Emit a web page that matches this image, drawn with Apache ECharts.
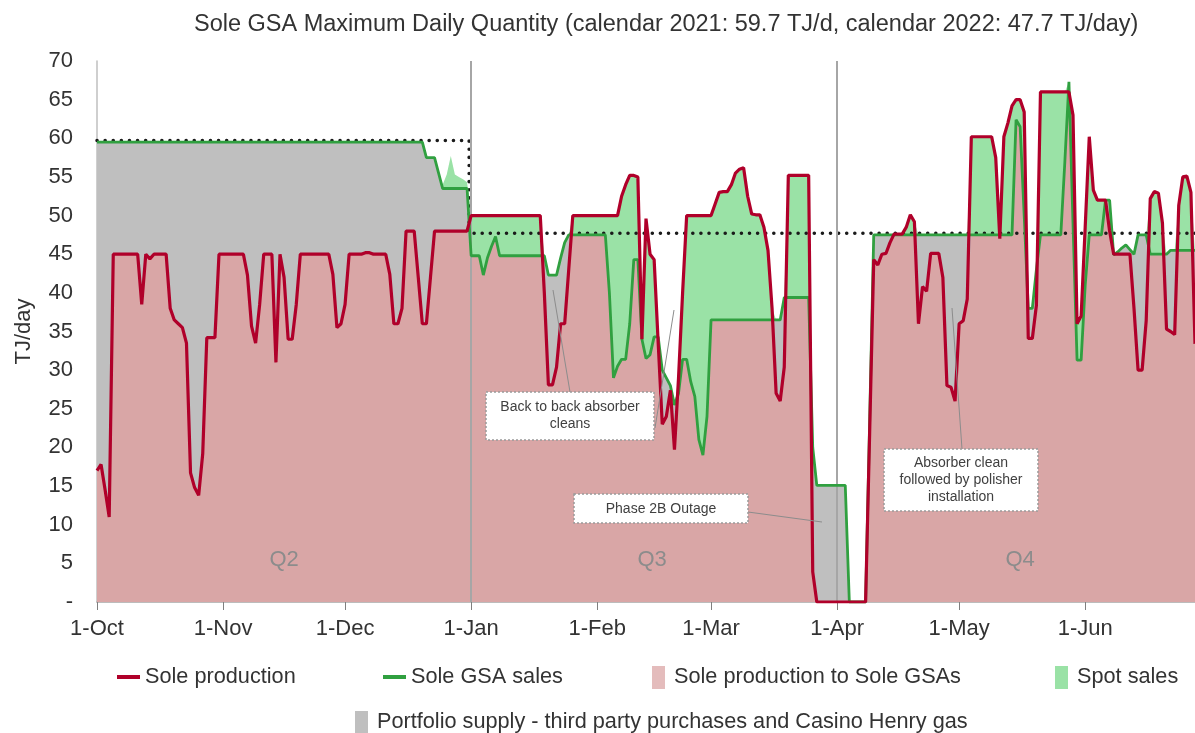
<!DOCTYPE html>
<html>
<head>
<meta charset="utf-8">
<script src="https://cdn.jsdelivr.net/npm/echarts@6/dist/echarts.min.js"></script>
<style>
html, body { margin: 0; padding: 0; background: #fff; }
#chart { width: 1195px; height: 733px; }
</style>
</head>
<body>
<div id="chart"></div>
<script>
// day 0 = 1 Oct 2021
const monthDays = [0, 31, 61, 92, 123, 151, 182, 212, 243];
const monthLabels = ['1-Oct', '1-Nov', '1-Dec', '1-Jan', '1-Feb', '1-Mar', '1-Apr', '1-May', '1-Jun'];
const quarterStartDays = [92, 182];
const quarterNames = ['Q2', 'Q3', 'Q4'];
const quarterMidDays = [46, 136.5, 227];
const quarterLabelLevel = 5.4;

// Sole GSA maximum daily quantity
const mdqDays = [0, 91.5, 91.5, 270];
const mdqValues = [59.7, 59.7, 47.7, 47.7];

// Sole production, TJ/day, one value per day
const production = [
  17, 17.8, 14.5, 11, 45, 45, 45, 45, 45, 45,
  45, 38.5, 45, 44.4, 45, 45, 45, 45, 38, 36.5,
  36, 35.5, 33.5, 16.7, 14.8, 13.8, 19.2, 34.2, 34.2, 34.2,
  45, 45, 45, 45, 45, 45, 45, 42.3, 35.7, 33.5,
  38.5, 45, 45, 45, 31, 45, 42, 34, 34, 38.5,
  45, 45, 45, 45, 45, 45, 45, 45, 42.4, 35.5,
  36, 38.5, 45, 45, 45, 45, 45.2, 45.2, 45, 45,
  45, 45, 42.4, 36, 36, 38, 48, 48, 48, 42,
  36, 36, 42, 48, 48, 48, 48, 48, 48, 48,
  48, 48, 50, 50, 50, 50, 50, 50, 50, 50,
  50, 50, 50, 50, 50, 50, 50, 50, 50, 50,
  40, 28.1, 28.1, 30.4, 36, 36, 43, 50, 50, 50,
  50, 50, 50, 50, 50, 50, 50, 50, 50, 52.5,
  54, 55.2, 55.2, 55, 34, 49.6, 45, 44.3, 33.5, 23,
  24, 27.4, 19.7, 29, 40, 50, 50, 50, 50, 50,
  50, 50, 51.5, 53, 53.1, 53.1, 54, 55.5, 56, 56.2,
  52.5, 50.2, 50.1, 50.1, 48.5, 45.5, 38, 27, 26, 30.4,
  55.2, 55.2, 55.2, 55.2, 55.2, 55.2, 3.9, 0, 0, 0,
  0, 0, 0, 0, 0, 0, 0, 0, 0, 0,
  22, 44.3, 43.6, 45, 45.1, 46.5, 47.6, 47.6, 47.6, 48.5,
  50.1, 49.2, 36, 40.8, 40.2, 45.1, 45.1, 45.1, 42, 28,
  27.8, 26, 36, 36.4, 39.2, 60.2, 60.2, 60.2, 60.2, 60.2,
  60.2, 57.5, 47, 60.2, 62, 64.2, 65, 65, 63.4, 34.1,
  34.1, 38.4, 66, 66, 66, 66, 66, 66, 66, 66,
  63, 36, 37, 48.5, 60.2, 53.3, 52, 52, 52, 48,
  45, 45, 45, 45, 45, 38, 30, 30, 36.4, 52.2,
  53.1, 52.9, 49, 35.3, 35, 34.6, 51.3, 55, 55.1, 53,
  33.4
];

// Sole GSA sales, TJ/day, one value per day
const gsaSales = [
  59.5, 59.5, 59.5, 59.5, 59.5, 59.5, 59.5, 59.5, 59.5, 59.5,
  59.5, 59.5, 59.5, 59.5, 59.5, 59.5, 59.5, 59.5, 59.5, 59.5,
  59.5, 59.5, 59.5, 59.5, 59.5, 59.5, 59.5, 59.5, 59.5, 59.5,
  59.5, 59.5, 59.5, 59.5, 59.5, 59.5, 59.5, 59.5, 59.5, 59.5,
  59.5, 59.5, 59.5, 59.5, 59.5, 59.5, 59.5, 59.5, 59.5, 59.5,
  59.5, 59.5, 59.5, 59.5, 59.5, 59.5, 59.5, 59.5, 59.5, 59.5,
  59.5, 59.5, 59.5, 59.5, 59.5, 59.5, 59.5, 59.5, 59.5, 59.5,
  59.5, 59.5, 59.5, 59.5, 59.5, 59.5, 59.5, 59.5, 59.5, 59.5,
  59.5, 57.5, 57.5, 57.5, 55.5, 53.5, 53.5, 53.5, 53.5, 53.5,
  53.5, 53.5, 44.8, 44.8, 44.8, 42.3, 44.5, 46, 47.3, 44.8,
  44.8, 44.8, 44.8, 44.8, 44.8, 44.8, 44.8, 44.8, 44.8, 44.8,
  44.8, 42.3, 42.3, 42.3, 44.5, 46.5, 47.5, 47.5, 47.5, 47.5,
  47.5, 47.5, 47.5, 47.5, 47.5, 47.5, 40, 29, 30.5, 31.4,
  31.4, 36, 44.3, 44.3, 34, 31.5, 32, 34.3, 34.3, 30,
  29, 28, 25.5, 27, 31.4, 31.4, 28.5, 26.6, 21, 19,
  24, 36.5, 36.5, 36.5, 36.5, 36.5, 36.5, 36.5, 36.5, 36.5,
  36.5, 36.5, 36.5, 36.5, 36.5, 36.5, 36.5, 36.5, 36.5, 39.4,
  39.4, 39.4, 39.4, 39.4, 39.4, 39.4, 20, 15.1, 15.1, 15.1,
  15.1, 15.1, 15.1, 15.1, 15.1, 0, 0, 0, 0, 0,
  23.5, 47.5, 47.5, 47.5, 47.5, 47.5, 47.5, 47.5, 47.5, 47.5,
  47.5, 47.5, 47.5, 47.5, 47.5, 47.5, 47.5, 47.5, 47.5, 47.5,
  47.5, 47.5, 47.5, 47.5, 47.5, 47.5, 47.5, 47.5, 47.5, 47.5,
  47.5, 47.5, 47.5, 47.5, 47.5, 47.5, 62.4, 61.5, 50, 38,
  38, 43, 47.5, 47.5, 47.5, 47.5, 47.5, 47.5, 57, 67.3,
  49, 31.3, 31.3, 41, 47.5, 47.5, 47.5, 47.5, 52, 52,
  44.9, 45.3, 45.8, 46.2, 45.6, 45, 47.5, 47.5, 47.5, 45,
  45, 45, 45, 45, 45.5, 45.5, 45.5, 45.5, 45.5, 45.5,
  45.5
];

// spot sales on top of the portfolio supply in late December
const extraSpotDays = [85, 86, 87, 88, 89, 90, 91];
const extraSpotValues = [0.5, 1.8, 4.2, 1.8, 1.5, 1.2, 0.8];

const RED = '#b0002a';
const GREEN = '#30a040';
const PINK = '#d9a6a6';
const SPOT = '#9ae2a6';
const GREY = '#bfbfbf';
const FONT = '"Liberation Sans", Arial, sans-serif';
const TEXT = '#333333';

const pairs = (arr) => arr.map((v, i) => [i, v]);
const toGsa = production.map((p, i) => Math.min(p, gsaSales[i]));
const spotTop = production.map((p, i) => {
  const k = extraSpotDays.indexOf(i);
  return Math.max(p, gsaSales[i]) + (k >= 0 ? extraSpotValues[k] : 0);
});

const areaSeries = (name, data, color, z) => ({
  name: name,
  type: 'line',
  data: pairs(data),
  showSymbol: false,
  symbol: 'none',
  silent: true,
  z: z,
  lineStyle: { width: 0 },
  itemStyle: { color: color },
  areaStyle: { color: color, opacity: 1 }
});

const legendItem = (name, left, top, color, isLine) => ({
  orient: 'horizontal',
  selectedMode: false,
  itemGap: 0,
  left: left,
  top: top,
  itemWidth: isLine ? 23 : 13,
  itemHeight: isLine ? 4 : 23,
  textStyle: { fontSize: 21.7, color: TEXT, fontFamily: FONT, padding: [0, 0, 0, isLine ? 0 : 4] },
  data: [{ name: name, icon: 'rect', itemStyle: { color: color, borderWidth: 0 } }]
});

const chart = echarts.init(document.getElementById('chart'));

const option = {
  animation: false,
  title: {
    text: 'Sole GSA Maximum Daily Quantity (calendar 2021: 59.7 TJ/d, calendar 2022: 47.7 TJ/day)',
    left: 189,
    top: 8,
    textStyle: { fontSize: 23.5, fontWeight: 'normal', color: TEXT, fontFamily: FONT }
  },
  legend: [
    legendItem('Sole production', 112, 661, RED, true),
    legendItem('Sole GSA sales', 378, 661, GREEN, true),
    legendItem('Sole production to Sole GSAs', 647, 661, '#e4bcbc', false),
    legendItem('Spot sales', 1050, 661, SPOT, false),
    legendItem('Portfolio supply - third party purchases and Casino Henry gas', 350, 706, GREY, false)
  ],
  grid: { left: 97, right: 0, top: 61, bottom: 131 },
  xAxis: {
    type: 'value',
    min: 0,
    max: 270,
    axisLine: { lineStyle: { color: '#a6a6a6', width: 1.5 } },
    axisTick: { show: true, customValues: monthDays, length: 8, lineStyle: { color: '#7f7f7f' } },
    axisLabel: {
      customValues: monthDays,
      formatter: (v) => monthLabels[monthDays.indexOf(v)],
      margin: 16,
      fontSize: 22,
      color: TEXT,
      fontFamily: FONT
    },
    splitLine: { show: false }
  },
  yAxis: {
    type: 'value',
    min: 0,
    max: 70,
    interval: 5,
    name: 'TJ/day',
    nameLocation: 'middle',
    nameGap: 62,
    nameTextStyle: { fontSize: 22, color: TEXT, fontFamily: FONT },
    axisLine: { show: true, lineStyle: { color: '#bfbfbf', width: 1.5 } },
    axisTick: { show: false },
    axisLabel: {
      formatter: (v) => (v === 0 ? '-' : String(v)),
      margin: 24,
      fontSize: 22,
      color: TEXT,
      fontFamily: FONT
    },
    splitLine: { show: false }
  },
  series: [
    areaSeries('Spot sales', spotTop, SPOT, 1),
    areaSeries('Portfolio supply - third party purchases and Casino Henry gas', gsaSales, GREY, 2),
    Object.assign(areaSeries('Sole production to Sole GSAs', toGsa, PINK, 3), {
      markLine: {
        silent: true,
        symbol: ['none', 'none'],
        label: { show: false },
        lineStyle: { color: '#a6a6a6', width: 2, type: 'solid' },
        data: quarterStartDays.map((d) => ({ xAxis: d }))
      },
      markPoint: {
        silent: true,
        symbol: 'rect',
        symbolSize: 1,
        itemStyle: { color: 'rgba(0,0,0,0)' },
        label: { show: true, formatter: '{b}', fontSize: 22, color: '#8c8c8c', fontFamily: FONT },
        data: quarterNames.map((q, i) => ({ name: q, coord: [quarterMidDays[i], quarterLabelLevel] }))
      }
    }),
    {
      name: 'MDQ',
      type: 'line',
      data: mdqDays.map((d, i) => [d, mdqValues[i]]),
      showSymbol: false,
      symbol: 'none',
      silent: true,
      z: 4,
      lineStyle: { color: '#1a1a1a', width: 3.5, type: [0.1, 8], cap: 'round' }
    },
    {
      name: 'Sole GSA sales',
      type: 'line',
      data: pairs(gsaSales),
      showSymbol: false,
      symbol: 'none',
      silent: true,
      z: 5,
      itemStyle: { color: GREEN },
      lineStyle: { color: GREEN, width: 2.8 }
    },
    {
      name: 'Sole production',
      type: 'line',
      data: pairs(production),
      showSymbol: false,
      symbol: 'none',
      silent: true,
      z: 6,
      itemStyle: { color: RED },
      lineStyle: { color: RED, width: 3.2 }
    }
  ],
  graphic: [
    { type: 'line', z: 100, shape: { x1: 553, y1: 290, x2: 570, y2: 392 }, style: { stroke: '#8c8c8c', lineWidth: 1 } },
    { type: 'line', z: 100, shape: { x1: 655, y1: 428, x2: 674, y2: 310 }, style: { stroke: '#8c8c8c', lineWidth: 1 } },
    { type: 'line', z: 100, shape: { x1: 748, y1: 512, x2: 822, y2: 522 }, style: { stroke: '#8c8c8c', lineWidth: 1 } },
    { type: 'line', z: 100, shape: { x1: 952, y1: 308, x2: 962, y2: 449 }, style: { stroke: '#8c8c8c', lineWidth: 1 } },
    { type: 'rect', z: 100, shape: { x: 486, y: 392, width: 168, height: 48 }, style: { fill: '#fff', stroke: '#9a9a9a', lineWidth: 1.5, lineDash: [2, 2] } },
    { type: 'text', z: 101, style: { x: 570, y: 416, text: 'Back to back absorber\ncleans', align: 'center', verticalAlign: 'middle', lineHeight: 17, fill: '#404040', font: '14px ' + FONT } },
    { type: 'rect', z: 100, shape: { x: 574, y: 494, width: 174, height: 29 }, style: { fill: '#fff', stroke: '#9a9a9a', lineWidth: 1.5, lineDash: [2, 2] } },
    { type: 'text', z: 101, style: { x: 661, y: 509, text: 'Phase 2B Outage', align: 'center', verticalAlign: 'middle', fill: '#404040', font: '14px ' + FONT } },
    { type: 'rect', z: 100, shape: { x: 884, y: 449, width: 154, height: 62 }, style: { fill: '#fff', stroke: '#9a9a9a', lineWidth: 1.5, lineDash: [2, 2] } },
    { type: 'text', z: 101, style: { x: 961, y: 480, text: 'Absorber clean\nfollowed by polisher\ninstallation', align: 'center', verticalAlign: 'middle', lineHeight: 17, fill: '#404040', font: '14px ' + FONT } }
  ]
};

chart.setOption(option);
</script>
</body>
</html>
